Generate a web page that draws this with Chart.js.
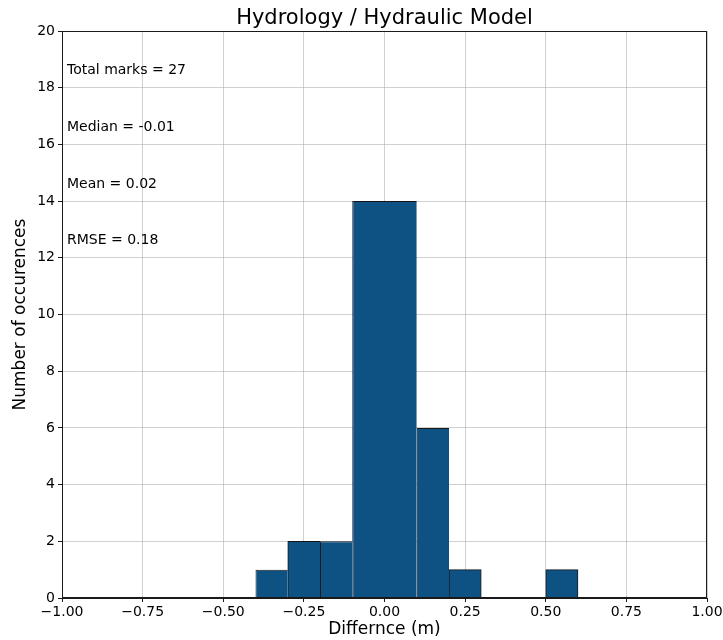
<!DOCTYPE html>
<html>
<head>
<meta charset="utf-8">
<title>Hydrology / Hydraulic Model</title>
<script src="https://cdn.jsdelivr.net/npm/chart.js@4/dist/chart.umd.min.js"></script>
<style>
  html, body { margin: 0; padding: 0; background: #ffffff; }
  canvas { display: block; }
</style>
</head>
<body>
<canvas id="hist" width="723" height="640"></canvas>
<script>
// Histogram bins of the difference (m) and their counts
const binStart = [-0.4, -0.3, -0.2, -0.1, 0.1, 0.2, 0.5];
const binEnd   = [-0.3, -0.2, -0.1,  0.1, 0.2, 0.3, 0.6];
const counts   = [1, 2, 2, 14, 6, 1, 1];

// Axis ticks
const xTickValues = [-1.0, -0.75, -0.5, -0.25, 0.0, 0.25, 0.5, 0.75, 1.0];
const yTickValues = [0, 2, 4, 6, 8, 10, 12, 14, 16, 18, 20];

// Summary statistics shown in the upper-left corner
const totalMarks = counts.reduce((a, b) => a + b, 0);
const statLines = [
  'Total marks = ' + totalMarks,
  'Median = -0.01',
  'Mean = 0.02',
  'RMSE = 0.18'
];

const FONT = 'DejaVu Sans';
const BAR_COLOR = 'rgb(14,82,132)';
const EDGE_COLOR = 'rgba(0,0,0,0.9)';
const GRID_COLOR = 'rgba(170,170,170,0.55)';

Chart.defaults.font.family = FONT;
Chart.defaults.color = '#000';

// Narrowest bin width: bars are sized relative to it
const baseWidth = Math.min(...binStart.map((s, i) => binEnd[i] - s));

const datasets = counts.map((c, i) => {
  const hasRightNeighbour = binStart.some(s => Math.abs(s - binEnd[i]) < 1e-9);
  return {
    label: 'bin ' + i,
    data: [{ x: (binStart[i] + binEnd[i]) / 2, y: c }],
    backgroundColor: BAR_COLOR,
    borderColor: EDGE_COLOR,
    borderWidth: { left: 1, top: 1, right: hasRightNeighbour ? 0 : 1, bottom: 0 },
    borderSkipped: false,
    grouped: false,
    categoryPercentage: 1,
    barPercentage: (binEnd[i] - binStart[i]) / baseWidth
  };
});

function fmtX(v) {
  const s = Math.abs(v).toFixed(2);
  return v < -1e-9 ? '\u2212' + s : s;
}

// Title, stats text and the full plot frame
const decorations = {
  id: 'decorations',
  afterDraw(chart) {
    const { ctx, chartArea: a, scales } = chart;
    ctx.save();
    // frame
    ctx.strokeStyle = '#1a1a1a';
    ctx.lineWidth = 1;
    ctx.strokeRect(Math.round(a.left) + 0.5, Math.round(a.top) + 0.5,
                   Math.round(a.right - a.left) - 1, Math.round(a.bottom - a.top) - 1);
    // title
    ctx.fillStyle = '#000';
    ctx.font = '21px "' + FONT + '"';
    ctx.textAlign = 'center';
    ctx.textBaseline = 'alphabetic';
    ctx.fillText('Hydrology / Hydraulic Model', (a.left + a.right) / 2, a.top - 7);
    // statistics
    ctx.font = '14px "' + FONT + '"';
    ctx.textAlign = 'left';
    ctx.textBaseline = 'middle';
    statLines.forEach((t, i) => {
      const y = scales.y.getPixelForValue(18.6 - 2 * i);
      ctx.fillText(t, a.left + 5, y);
    });
    ctx.restore();
  }
};

new Chart(document.getElementById('hist'), {
  type: 'bar',
  data: { datasets },
  options: {
    responsive: false,
    animation: false,
    devicePixelRatio: 1,
    layout: { padding: { top: 31, right: 16, left: 0, bottom: 0 } },
    plugins: {
      legend: { display: false },
      tooltip: { enabled: false },
      title: { display: false }
    },
    scales: {
      x: {
        type: 'linear',
        min: -1,
        max: 1,
        offset: false,
        z: 1,
        afterBuildTicks: s => { s.ticks = xTickValues.map(v => ({ value: v })); },
        afterFit: s => { s.height = 42; s.paddingLeft = 0; s.paddingRight = 0; },
        ticks: {
          callback: v => fmtX(v),
          font: { size: 14 },
          padding: 2,
          maxRotation: 0,
          autoSkip: false
        },
        grid: {
          offset: false,
          color: GRID_COLOR,
          lineWidth: 1,
          drawTicks: true,
          tickLength: 4,
          tickColor: '#1a1a1a',
          tickWidth: 1
        },
        border: { display: true, color: '#1a1a1a', width: 1 },
        title: {
          display: true,
          text: 'Differnce (m)',
          font: { size: 17 },
          padding: { top: 0, bottom: 0 }
        }
      },
      y: {
        type: 'linear',
        min: 0,
        max: 20,
        z: 1,
        afterBuildTicks: s => { s.ticks = yTickValues.map(v => ({ value: v })); },
        afterFit: s => { s.width = 62; },
        ticks: {
          font: { size: 14 },
          padding: 3,
          autoSkip: false
        },
        grid: {
          color: GRID_COLOR,
          lineWidth: 1,
          drawTicks: true,
          tickLength: 4,
          tickColor: '#1a1a1a',
          tickWidth: 1
        },
        border: { display: true, color: '#1a1a1a', width: 1 },
        title: {
          display: true,
          text: 'Number of occurences',
          font: { size: 17 },
          padding: { top: 10, bottom: 0 }
        }
      }
    }
  },
  plugins: [decorations]
});
</script>
</body>
</html>
